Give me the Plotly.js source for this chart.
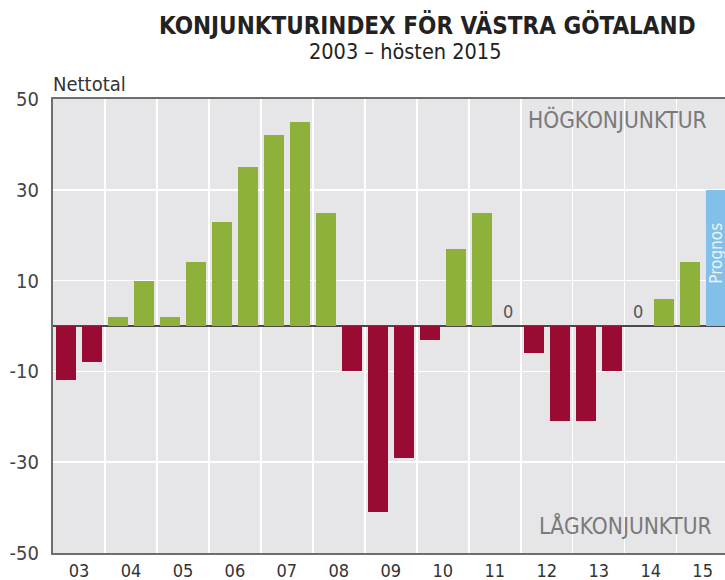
<!DOCTYPE html>
<html>
<head>
<meta charset="utf-8">
<script src="https://cdn.plot.ly/plotly-3.0.1.min.js"></script>
<style>
html,body{margin:0;padding:0;background:#fff;overflow:hidden;}
#chart{width:725px;height:580px;}
</style>
</head>
<body>
<div id="chart"></div>
<script>
// Data
const years = ["03","04","05","06","07","08","09","10","11","12","13","14","15"];
const halfYearValues = [-12,-8, 2,10, 2,14, 23,35, 42,45, 25,-10, -41,-29, -3,17, 25,0, -6,-21, -21,-10, 0,6, 14];
const prognosValue = 30;
const prognosLabel = "Prognos";
const yTicks = [-50,-30,-10,10,30,50];
const titleText = "KONJUNKTURINDEX FÖR VÄSTRA GÖTALAND";
const subtitleText = "2003 – hösten 2015";
const yUnitText = "Nettotal";
const highText = "HÖGKONJUNKTUR";
const lowText = "LÅGKONJUNKTUR";

const GREEN = "#8db13a", RED = "#990b33", BLUE = "#82bfe9";
const FONT = "DejaVu Sans Condensed, Liberation Sans Narrow, sans-serif";

const xIdx = halfYearValues.map((v,i)=>i);
const colors = halfYearValues.map(v => v >= 0 ? GREEN : RED);
const progIdx = halfYearValues.length;

const traces = [
  {type:"bar", x:xIdx, y:halfYearValues, width:0.77,
   marker:{color:colors, line:{width:0}}, hoverinfo:"x+y"},
  {type:"bar", x:[progIdx], y:[prognosValue], width:0.77,
   marker:{color:BLUE, line:{width:0}}, hoverinfo:"y"}
];

const annotations = [];
halfYearValues.forEach((v,i)=>{
  if (v === 0) annotations.push({x:i, y:0, xref:"x", yref:"y", text:"0", showarrow:false,
    yanchor:"bottom", yshift:2, font:{family:FONT, size:18, color:"#555"}});
});
annotations.push({x:progIdx+0.03, y:16, xref:"x", yref:"y", text:prognosLabel, textangle:-90,
  showarrow:false, font:{family:FONT, size:17, color:"#e8f3fb"}});
annotations.push({x:1, xref:"paper", y:45.5, yref:"y", xanchor:"right", xshift:-16, text:highText,
  showarrow:false, font:{family:FONT, size:22.5, color:"#7a7a7a"}});
annotations.push({x:1, xref:"paper", y:-44, yref:"y", xanchor:"right", xshift:-11, text:lowText,
  showarrow:false, font:{family:FONT, size:22.5, color:"#7a7a7a"}});
annotations.push({x:0.0, xref:"paper", xanchor:"left", y:1, yref:"paper", yanchor:"bottom", yshift:1, xshift:-2,
  text:yUnitText, showarrow:false, font:{family:FONT, size:20, color:"#333"}});
annotations.push({x:0.557, xref:"paper", xanchor:"center", y:1.163, yref:"paper", yanchor:"middle",
  text:"<b>"+titleText+"</b>", showarrow:false, font:{family:FONT, size:24, color:"#222"}});
annotations.push({x:0.524, xref:"paper", xanchor:"center", y:1.105, yref:"paper", yanchor:"middle",
  text:subtitleText, showarrow:false, font:{family:FONT, size:21.5, color:"#222"}});

const layout = {
  width:725, height:580,
  margin:{l:53, r:0, t:99, b:27},
  paper_bgcolor:"#ffffff", plot_bgcolor:"#e6e5e7",
  showlegend:false, bargap:0,
  xaxis:{range:[-0.5, 25.36], tickmode:"array",
    tickvals:years.map((y,k)=>2*k+0.5), ticktext:years,
    showgrid:false, zeroline:false, ticks:"",
    showline:true, linecolor:"#6e6e6e", linewidth:2, mirror:true,
    tickfont:{family:FONT, size:18, color:"#333"},
    minor:{tick0:-0.5, dtick:2, showgrid:true, gridcolor:"#ffffff", gridwidth:1.5, ticks:""}},
  yaxis:{range:[-50,50], tickmode:"array", tickvals:yTicks,
    ticktext:yTicks.map(String),
    showgrid:true, gridcolor:"#ffffff", gridwidth:1.5,
    zeroline:true, zerolinecolor:"#4a4a4a", zerolinewidth:2,
    showline:true, linecolor:"#6e6e6e", linewidth:2, ticks:"", ticklabelstandoff:8,
    tickfont:{family:FONT, size:20, color:"#444"}},
  annotations:annotations
};

Plotly.newPlot("chart", traces, layout, {staticPlot:true, displayModeBar:false});
</script>
</body>
</html>
